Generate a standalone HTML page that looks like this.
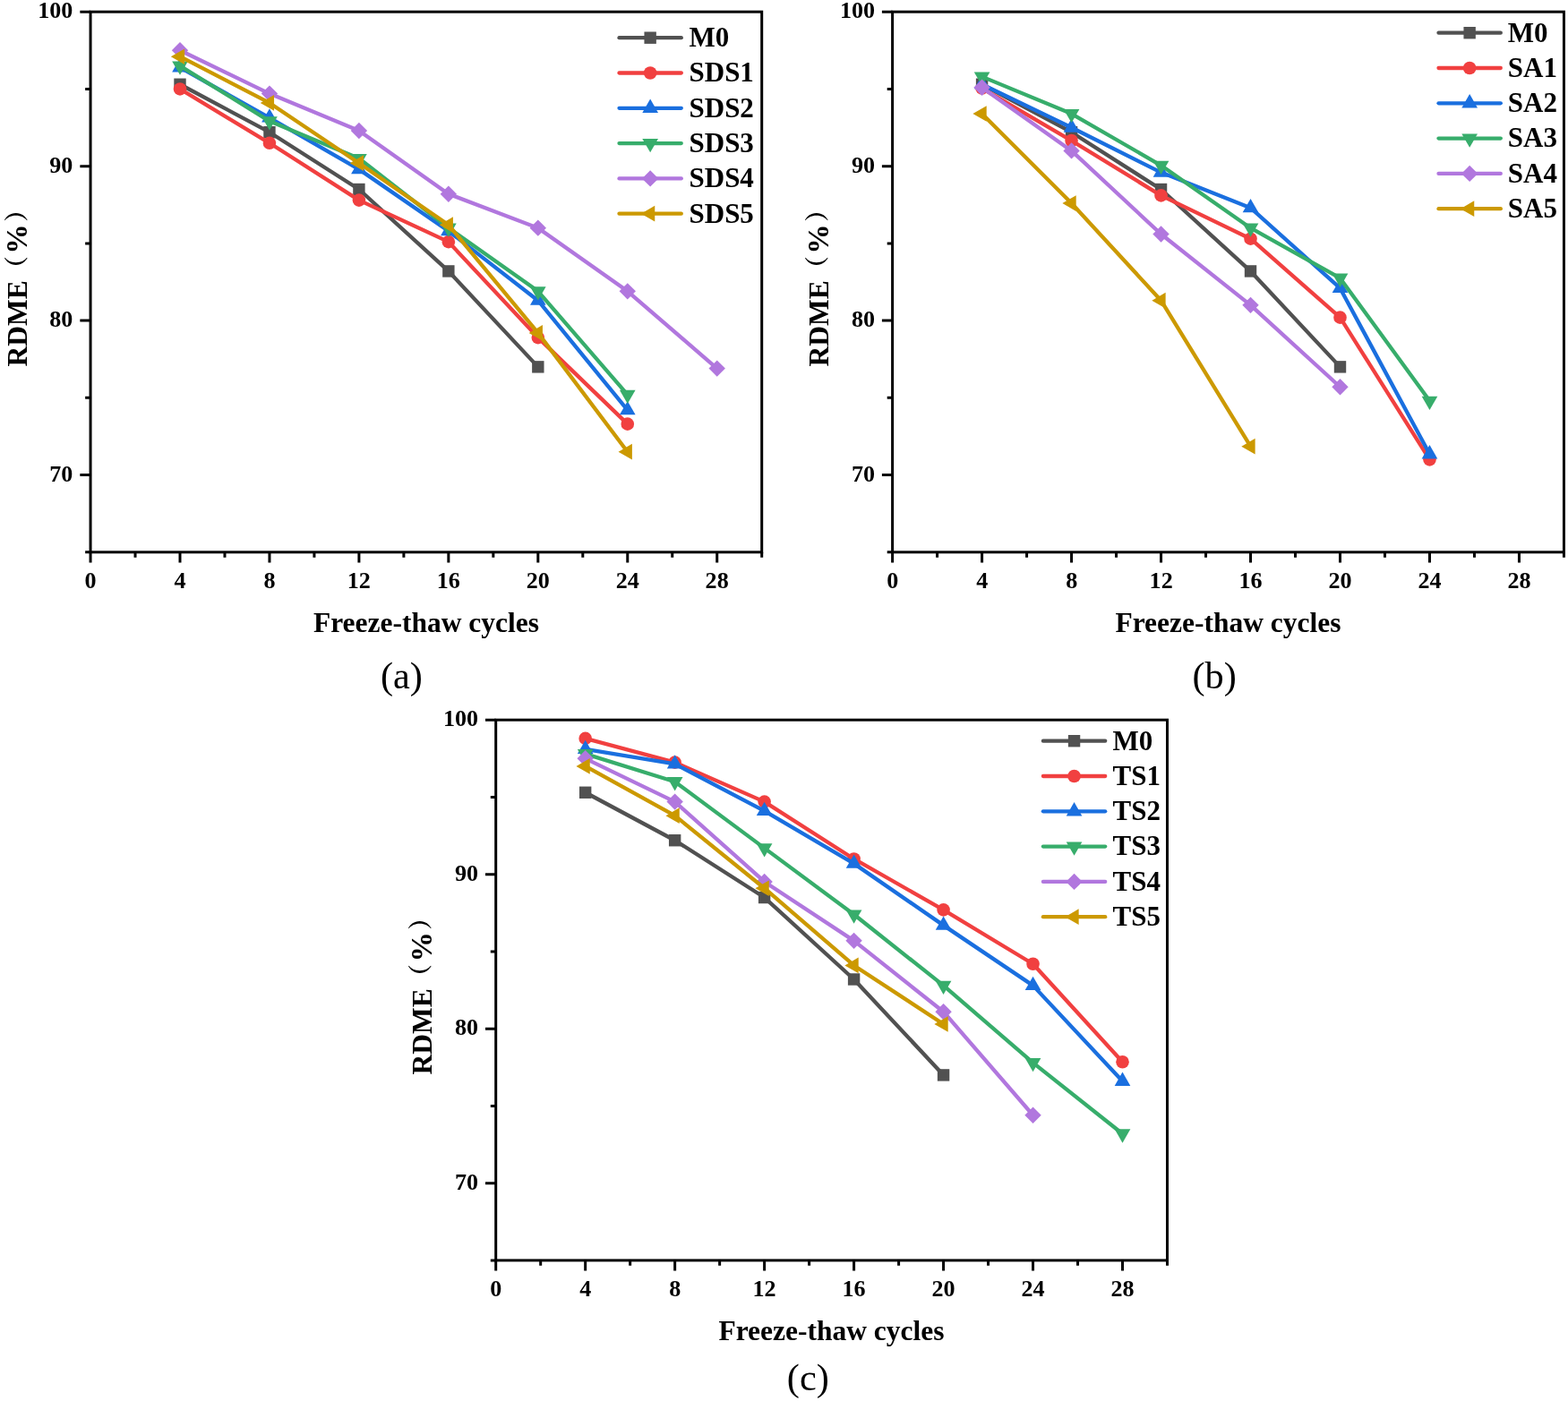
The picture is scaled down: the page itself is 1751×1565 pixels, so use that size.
<!DOCTYPE html>
<html lang="en">
<head>
<meta charset="utf-8">
<title>RDME versus freeze-thaw cycles</title>
<style>
html,body{margin:0;padding:0;background:#fff;}
body{width:1751px;height:1565px;overflow:hidden;}
svg{display:block;}
text{white-space:pre;}
</style>
</head>
<body>
<svg width="1751" height="1565" viewBox="0 0 1751 1565">
<rect width="1751" height="1565" fill="#fff"/>
<g>
<polyline fill="none" stroke="#515151" stroke-width="4.3" stroke-linejoin="round" stroke-linecap="round" points="201,94.25 300.96,147.72 400.91,211.53 500.86,302.93 600.82,409.85"/>
<rect x="194.3" y="87.55" width="13.4" height="13.4" fill="#515151"/>
<rect x="294.26" y="141.02" width="13.4" height="13.4" fill="#515151"/>
<rect x="394.21" y="204.83" width="13.4" height="13.4" fill="#515151"/>
<rect x="494.16" y="296.23" width="13.4" height="13.4" fill="#515151"/>
<rect x="594.12" y="403.15" width="13.4" height="13.4" fill="#515151"/>
<polyline fill="none" stroke="#F14040" stroke-width="4.3" stroke-linejoin="round" stroke-linecap="round" points="201,99.43 300.96,159.79 400.91,223.6 500.86,270.16 600.82,377.08 700.77,473.66"/>
<circle cx="201" cy="99.43" r="7.3" fill="#F14040"/>
<circle cx="300.96" cy="159.79" r="7.3" fill="#F14040"/>
<circle cx="400.91" cy="223.6" r="7.3" fill="#F14040"/>
<circle cx="500.86" cy="270.16" r="7.3" fill="#F14040"/>
<circle cx="600.82" cy="377.08" r="7.3" fill="#F14040"/>
<circle cx="700.77" cy="473.66" r="7.3" fill="#F14040"/>
<polyline fill="none" stroke="#1A6FDF" stroke-width="4.3" stroke-linejoin="round" stroke-linecap="round" points="201,75.28 300.96,131.51 400.91,189.11 500.86,258.09 600.82,335.69 700.77,458.14"/>
<polygon points="201,65.08 209.84,80.38 192.17,80.38" fill="#1A6FDF"/>
<polygon points="300.96,121.31 309.79,136.61 292.12,136.61" fill="#1A6FDF"/>
<polygon points="400.91,178.91 409.74,194.21 392.08,194.21" fill="#1A6FDF"/>
<polygon points="500.86,247.89 509.7,263.19 492.03,263.19" fill="#1A6FDF"/>
<polygon points="600.82,325.49 609.65,340.79 591.98,340.79" fill="#1A6FDF"/>
<polygon points="700.77,447.94 709.6,463.24 691.94,463.24" fill="#1A6FDF"/>
<polyline fill="none" stroke="#37AD6B" stroke-width="4.3" stroke-linejoin="round" stroke-linecap="round" points="201,73.56 300.96,135.3 400.91,177.03 500.86,254.64 600.82,325.35 700.77,440.89"/>
<polygon points="201,83.76 192.17,68.46 209.84,68.46" fill="#37AD6B"/>
<polygon points="300.96,145.5 292.12,130.2 309.79,130.2" fill="#37AD6B"/>
<polygon points="400.91,187.23 392.08,171.93 409.74,171.93" fill="#37AD6B"/>
<polygon points="500.86,264.84 492.03,249.54 509.7,249.54" fill="#37AD6B"/>
<polygon points="600.82,335.55 591.98,320.25 609.65,320.25" fill="#37AD6B"/>
<polygon points="700.77,451.09 691.94,435.79 709.6,435.79" fill="#37AD6B"/>
<polyline fill="none" stroke="#B177DE" stroke-width="4.3" stroke-linejoin="round" stroke-linecap="round" points="201,56.31 300.96,104.6 400.91,145.99 500.86,216.7 600.82,254.64 700.77,325.35 800.72,411.58"/>
<polygon points="201,47.11 210.2,56.31 201,65.51 191.8,56.31" fill="#B177DE"/>
<polygon points="300.96,95.4 310.16,104.6 300.96,113.8 291.76,104.6" fill="#B177DE"/>
<polygon points="400.91,136.79 410.11,145.99 400.91,155.19 391.71,145.99" fill="#B177DE"/>
<polygon points="500.86,207.5 510.06,216.7 500.86,225.9 491.66,216.7" fill="#B177DE"/>
<polygon points="600.82,245.44 610.02,254.64 600.82,263.84 591.62,254.64" fill="#B177DE"/>
<polygon points="700.77,316.15 709.97,325.35 700.77,334.55 691.57,325.35" fill="#B177DE"/>
<polygon points="800.72,402.38 809.92,411.58 800.72,420.78 791.52,411.58" fill="#B177DE"/>
<polyline fill="none" stroke="#CC9900" stroke-width="4.3" stroke-linejoin="round" stroke-linecap="round" points="201,63.21 300.96,114.95 400.91,182.21 500.86,251.19 600.82,371.91 700.77,504.7"/>
<polygon points="190.8,63.21 206.1,54.38 206.1,72.05" fill="#CC9900"/>
<polygon points="290.76,114.95 306.06,106.12 306.06,123.78" fill="#CC9900"/>
<polygon points="390.71,182.21 406.01,173.37 406.01,191.04" fill="#CC9900"/>
<polygon points="490.66,251.19 505.96,242.36 505.96,260.02" fill="#CC9900"/>
<polygon points="590.62,371.91 605.92,363.08 605.92,380.74" fill="#CC9900"/>
<polygon points="690.57,504.7 705.87,495.87 705.87,513.54" fill="#CC9900"/>
<g stroke="#000" stroke-width="3" fill="none" stroke-linecap="butt">
<rect x="101.05" y="13.2" width="749.65" height="603.6"/>
<path d="M101.05 616.8 v11.7 M151.03 616.8 v5.9 M201 616.8 v11.7 M250.98 616.8 v5.9 M300.96 616.8 v11.7 M350.93 616.8 v5.9 M400.91 616.8 v11.7 M450.89 616.8 v5.9 M500.86 616.8 v11.7 M550.84 616.8 v5.9 M600.82 616.8 v11.7 M650.79 616.8 v5.9 M700.77 616.8 v11.7 M750.75 616.8 v5.9 M800.72 616.8 v11.7 M850.7 616.8 v5.9 M101.05 616.8 h-5.9 M101.05 530.57 h-11.7 M101.05 444.34 h-5.9 M101.05 358.11 h-11.7 M101.05 271.89 h-5.9 M101.05 185.66 h-11.7 M101.05 99.43 h-5.9 M101.05 13.2 h-11.7"/>
</g>
<g font-family='"Liberation Serif", "Noto Serif CJK SC", serif' font-weight="bold" font-size="26.1" fill="#000">
<g text-anchor="middle">
<text x="101" y="656.7">0</text>
<text x="200.95" y="656.7">4</text>
<text x="300.91" y="656.7">8</text>
<text x="400.86" y="656.7">12</text>
<text x="500.81" y="656.7">16</text>
<text x="600.77" y="656.7">20</text>
<text x="700.72" y="656.7">24</text>
<text x="800.67" y="656.7">28</text>
</g>
<g text-anchor="end">
<text x="81.4" y="537.77">70</text>
<text x="81.4" y="365.31">80</text>
<text x="81.4" y="192.86">90</text>
<text x="81.4" y="20.4">100</text>
</g>
</g>
<g font-family='"Liberation Serif", "Noto Serif CJK SC", serif' font-weight="bold" font-size="31.5" fill="#000">
<text x="476" y="706" text-anchor="middle">Freeze-thaw cycles</text>
<text transform="translate(29.9 409.5) rotate(-90)" text-anchor="start">RDME<tspan font-size="27" dx="0" dy="-2.3">（</tspan><tspan font-size="33.5" dx="2.6" dy="2.3">%</tspan><tspan font-size="27" dx="2.4" dy="-2.3">）</tspan></text>
</g>
<text x="448.4" y="769.4" font-family='"Liberation Serif", "Noto Serif CJK SC", serif' font-size="42.3" text-anchor="middle" fill="#000">(a)</text>
<g font-family='"Liberation Serif", "Noto Serif CJK SC", serif' font-weight="bold" font-size="31" fill="#000">
<line x1="691.5" y1="42.2" x2="760.8" y2="42.2" stroke="#515151" stroke-width="4.3" stroke-linecap="round"/>
<rect x="719.45" y="35.5" width="13.4" height="13.4" fill="#515151"/>
<text x="769.5" y="52">M0</text>
<line x1="691.5" y1="81.5" x2="760.8" y2="81.5" stroke="#F14040" stroke-width="4.3" stroke-linecap="round"/>
<circle cx="726.15" cy="81.5" r="7.3" fill="#F14040"/>
<text x="769.5" y="91.3">SDS1</text>
<line x1="691.5" y1="120.8" x2="760.8" y2="120.8" stroke="#1A6FDF" stroke-width="4.3" stroke-linecap="round"/>
<polygon points="726.15,110.6 734.98,125.9 717.32,125.9" fill="#1A6FDF"/>
<text x="769.5" y="130.6">SDS2</text>
<line x1="691.5" y1="160.1" x2="760.8" y2="160.1" stroke="#37AD6B" stroke-width="4.3" stroke-linecap="round"/>
<polygon points="726.15,170.3 717.32,155 734.98,155" fill="#37AD6B"/>
<text x="769.5" y="169.9">SDS3</text>
<line x1="691.5" y1="199.4" x2="760.8" y2="199.4" stroke="#B177DE" stroke-width="4.3" stroke-linecap="round"/>
<polygon points="726.15,190.2 735.35,199.4 726.15,208.6 716.95,199.4" fill="#B177DE"/>
<text x="769.5" y="209.2">SDS4</text>
<line x1="691.5" y1="238.7" x2="760.8" y2="238.7" stroke="#CC9900" stroke-width="4.3" stroke-linecap="round"/>
<polygon points="715.95,238.7 731.25,229.87 731.25,247.53" fill="#CC9900"/>
<text x="769.5" y="248.5">SDS5</text>
</g>
</g>
<g>
<polyline fill="none" stroke="#515151" stroke-width="4.3" stroke-linejoin="round" stroke-linecap="round" points="1096.58,94.25 1196.56,147.72 1296.54,211.53 1396.52,302.93 1496.5,409.85"/>
<rect x="1089.88" y="87.55" width="13.4" height="13.4" fill="#515151"/>
<rect x="1189.86" y="141.02" width="13.4" height="13.4" fill="#515151"/>
<rect x="1289.84" y="204.83" width="13.4" height="13.4" fill="#515151"/>
<rect x="1389.82" y="296.23" width="13.4" height="13.4" fill="#515151"/>
<rect x="1489.8" y="403.15" width="13.4" height="13.4" fill="#515151"/>
<polyline fill="none" stroke="#F14040" stroke-width="4.3" stroke-linejoin="round" stroke-linecap="round" points="1096.58,98.57 1196.56,157.03 1296.54,218.42 1396.52,266.71 1496.5,354.67 1596.48,513.33"/>
<circle cx="1096.58" cy="98.57" r="7.3" fill="#F14040"/>
<circle cx="1196.56" cy="157.03" r="7.3" fill="#F14040"/>
<circle cx="1296.54" cy="218.42" r="7.3" fill="#F14040"/>
<circle cx="1396.52" cy="266.71" r="7.3" fill="#F14040"/>
<circle cx="1496.5" cy="354.67" r="7.3" fill="#F14040"/>
<circle cx="1596.48" cy="513.33" r="7.3" fill="#F14040"/>
<polyline fill="none" stroke="#1A6FDF" stroke-width="4.3" stroke-linejoin="round" stroke-linecap="round" points="1096.58,94.25 1196.56,142.54 1296.54,192.56 1396.52,232.22 1496.5,321.9 1596.48,507.29"/>
<polygon points="1096.58,84.05 1105.41,99.35 1087.75,99.35" fill="#1A6FDF"/>
<polygon points="1196.56,132.34 1205.39,147.64 1187.73,147.64" fill="#1A6FDF"/>
<polygon points="1296.54,182.36 1305.37,197.66 1287.71,197.66" fill="#1A6FDF"/>
<polygon points="1396.52,222.02 1405.35,237.32 1387.69,237.32" fill="#1A6FDF"/>
<polygon points="1496.5,311.7 1505.33,327 1487.67,327" fill="#1A6FDF"/>
<polygon points="1596.48,497.09 1605.31,512.39 1587.65,512.39" fill="#1A6FDF"/>
<polyline fill="none" stroke="#37AD6B" stroke-width="4.3" stroke-linejoin="round" stroke-linecap="round" points="1096.58,85.63 1196.56,127.02 1296.54,184.79 1396.52,254.64 1496.5,310.69 1596.48,447.79"/>
<polygon points="1096.58,95.83 1087.75,80.53 1105.41,80.53" fill="#37AD6B"/>
<polygon points="1196.56,137.22 1187.73,121.92 1205.39,121.92" fill="#37AD6B"/>
<polygon points="1296.54,194.99 1287.71,179.69 1305.37,179.69" fill="#37AD6B"/>
<polygon points="1396.52,264.84 1387.69,249.54 1405.35,249.54" fill="#37AD6B"/>
<polygon points="1496.5,320.89 1487.67,305.59 1505.33,305.59" fill="#37AD6B"/>
<polygon points="1596.48,457.99 1587.65,442.69 1605.31,442.69" fill="#37AD6B"/>
<polyline fill="none" stroke="#B177DE" stroke-width="4.3" stroke-linejoin="round" stroke-linecap="round" points="1096.58,97.7 1196.56,168.41 1296.54,261.54 1396.52,340.87 1496.5,432.27"/>
<polygon points="1096.58,88.5 1105.78,97.7 1096.58,106.9 1087.38,97.7" fill="#B177DE"/>
<polygon points="1196.56,159.21 1205.76,168.41 1196.56,177.61 1187.36,168.41" fill="#B177DE"/>
<polygon points="1296.54,252.34 1305.74,261.54 1296.54,270.74 1287.34,261.54" fill="#B177DE"/>
<polygon points="1396.52,331.67 1405.72,340.87 1396.52,350.07 1387.32,340.87" fill="#B177DE"/>
<polygon points="1496.5,423.07 1505.7,432.27 1496.5,441.47 1487.3,432.27" fill="#B177DE"/>
<polyline fill="none" stroke="#CC9900" stroke-width="4.3" stroke-linejoin="round" stroke-linecap="round" points="1096.58,127.02 1196.56,227.05 1296.54,335.69 1396.52,498.67"/>
<polygon points="1086.38,127.02 1101.68,118.19 1101.68,135.86" fill="#CC9900"/>
<polygon points="1186.36,227.05 1201.66,218.21 1201.66,235.88" fill="#CC9900"/>
<polygon points="1286.34,335.69 1301.64,326.86 1301.64,344.53" fill="#CC9900"/>
<polygon points="1386.32,498.67 1401.62,489.83 1401.62,507.5" fill="#CC9900"/>
<g stroke="#000" stroke-width="3" fill="none" stroke-linecap="butt">
<rect x="996.6" y="13.2" width="749.85" height="603.6"/>
<path d="M996.6 616.8 v11.7 M1046.59 616.8 v5.9 M1096.58 616.8 v11.7 M1146.57 616.8 v5.9 M1196.56 616.8 v11.7 M1246.55 616.8 v5.9 M1296.54 616.8 v11.7 M1346.53 616.8 v5.9 M1396.52 616.8 v11.7 M1446.51 616.8 v5.9 M1496.5 616.8 v11.7 M1546.49 616.8 v5.9 M1596.48 616.8 v11.7 M1646.47 616.8 v5.9 M1696.46 616.8 v11.7 M1746.45 616.8 v5.9 M996.6 616.8 h-5.9 M996.6 530.57 h-11.7 M996.6 444.34 h-5.9 M996.6 358.11 h-11.7 M996.6 271.89 h-5.9 M996.6 185.66 h-11.7 M996.6 99.43 h-5.9 M996.6 13.2 h-11.7"/>
</g>
<g font-family='"Liberation Serif", "Noto Serif CJK SC", serif' font-weight="bold" font-size="26.1" fill="#000">
<g text-anchor="middle">
<text x="996.7" y="656.7">0</text>
<text x="1096.68" y="656.7">4</text>
<text x="1196.66" y="656.7">8</text>
<text x="1296.64" y="656.7">12</text>
<text x="1396.62" y="656.7">16</text>
<text x="1496.6" y="656.7">20</text>
<text x="1596.58" y="656.7">24</text>
<text x="1696.56" y="656.7">28</text>
</g>
<g text-anchor="end">
<text x="977.05" y="537.77">70</text>
<text x="977.05" y="365.31">80</text>
<text x="977.05" y="192.86">90</text>
<text x="977.05" y="20.4">100</text>
</g>
</g>
<g font-family='"Liberation Serif", "Noto Serif CJK SC", serif' font-weight="bold" font-size="31.5" fill="#000">
<text x="1371.5" y="706" text-anchor="middle">Freeze-thaw cycles</text>
<text transform="translate(924.7 409.5) rotate(-90)" text-anchor="start">RDME<tspan font-size="27" dx="0" dy="-2.3">（</tspan><tspan font-size="33.5" dx="2.6" dy="2.3">%</tspan><tspan font-size="27" dx="2.4" dy="-2.3">）</tspan></text>
</g>
<text x="1356.2" y="769.4" font-family='"Liberation Serif", "Noto Serif CJK SC", serif' font-size="42.3" text-anchor="middle" fill="#000">(b)</text>
<g font-family='"Liberation Serif", "Noto Serif CJK SC", serif' font-weight="bold" font-size="31" fill="#000">
<line x1="1606.5" y1="36.7" x2="1675.8" y2="36.7" stroke="#515151" stroke-width="4.3" stroke-linecap="round"/>
<rect x="1634.45" y="30" width="13.4" height="13.4" fill="#515151"/>
<text x="1683.8" y="46.5">M0</text>
<line x1="1606.5" y1="76" x2="1675.8" y2="76" stroke="#F14040" stroke-width="4.3" stroke-linecap="round"/>
<circle cx="1641.15" cy="76" r="7.3" fill="#F14040"/>
<text x="1683.8" y="85.8">SA1</text>
<line x1="1606.5" y1="115.3" x2="1675.8" y2="115.3" stroke="#1A6FDF" stroke-width="4.3" stroke-linecap="round"/>
<polygon points="1641.15,105.1 1649.98,120.4 1632.32,120.4" fill="#1A6FDF"/>
<text x="1683.8" y="125.1">SA2</text>
<line x1="1606.5" y1="154.6" x2="1675.8" y2="154.6" stroke="#37AD6B" stroke-width="4.3" stroke-linecap="round"/>
<polygon points="1641.15,164.8 1632.32,149.5 1649.98,149.5" fill="#37AD6B"/>
<text x="1683.8" y="164.4">SA3</text>
<line x1="1606.5" y1="193.9" x2="1675.8" y2="193.9" stroke="#B177DE" stroke-width="4.3" stroke-linecap="round"/>
<polygon points="1641.15,184.7 1650.35,193.9 1641.15,203.1 1631.95,193.9" fill="#B177DE"/>
<text x="1683.8" y="203.7">SA4</text>
<line x1="1606.5" y1="233.2" x2="1675.8" y2="233.2" stroke="#CC9900" stroke-width="4.3" stroke-linecap="round"/>
<polygon points="1630.95,233.2 1646.25,224.37 1646.25,242.03" fill="#CC9900"/>
<text x="1683.8" y="243">SA5</text>
</g>
</g>
<g>
<polyline fill="none" stroke="#515151" stroke-width="4.3" stroke-linejoin="round" stroke-linecap="round" points="653.67,885.27 753.65,938.74 853.62,1002.56 953.59,1093.98 1053.57,1200.92"/>
<rect x="646.97" y="878.57" width="13.4" height="13.4" fill="#515151"/>
<rect x="746.95" y="932.04" width="13.4" height="13.4" fill="#515151"/>
<rect x="846.92" y="995.86" width="13.4" height="13.4" fill="#515151"/>
<rect x="946.89" y="1087.28" width="13.4" height="13.4" fill="#515151"/>
<rect x="1046.87" y="1194.22" width="13.4" height="13.4" fill="#515151"/>
<polyline fill="none" stroke="#F14040" stroke-width="4.3" stroke-linejoin="round" stroke-linecap="round" points="653.67,824.9 753.65,851.63 853.62,895.62 953.59,959.44 1053.57,1016.36 1153.54,1076.73 1253.51,1186.26"/>
<circle cx="653.67" cy="824.9" r="7.3" fill="#F14040"/>
<circle cx="753.65" cy="851.63" r="7.3" fill="#F14040"/>
<circle cx="853.62" cy="895.62" r="7.3" fill="#F14040"/>
<circle cx="953.59" cy="959.44" r="7.3" fill="#F14040"/>
<circle cx="1053.57" cy="1016.36" r="7.3" fill="#F14040"/>
<circle cx="1153.54" cy="1076.73" r="7.3" fill="#F14040"/>
<circle cx="1253.51" cy="1186.26" r="7.3" fill="#F14040"/>
<polyline fill="none" stroke="#1A6FDF" stroke-width="4.3" stroke-linejoin="round" stroke-linecap="round" points="653.67,836.97 753.65,853.36 853.62,905.97 953.59,964.61 1053.57,1033.61 1153.54,1100.88 1253.51,1207.82"/>
<polygon points="653.67,826.77 662.51,842.07 644.84,842.07" fill="#1A6FDF"/>
<polygon points="753.65,843.16 762.48,858.46 744.81,858.46" fill="#1A6FDF"/>
<polygon points="853.62,895.77 862.45,911.07 844.79,911.07" fill="#1A6FDF"/>
<polygon points="953.59,954.41 962.43,969.71 944.76,969.71" fill="#1A6FDF"/>
<polygon points="1053.57,1023.41 1062.4,1038.71 1044.73,1038.71" fill="#1A6FDF"/>
<polygon points="1153.54,1090.68 1162.37,1105.98 1144.71,1105.98" fill="#1A6FDF"/>
<polygon points="1253.51,1197.62 1262.35,1212.92 1244.68,1212.92" fill="#1A6FDF"/>
<polyline fill="none" stroke="#37AD6B" stroke-width="4.3" stroke-linejoin="round" stroke-linecap="round" points="653.67,842.15 753.65,873.19 853.62,947.36 953.59,1021.53 1053.57,1100.88 1153.54,1187.12 1253.51,1266.46"/>
<polygon points="653.67,852.35 644.84,837.05 662.51,837.05" fill="#37AD6B"/>
<polygon points="753.65,883.39 744.81,868.09 762.48,868.09" fill="#37AD6B"/>
<polygon points="853.62,957.56 844.79,942.26 862.45,942.26" fill="#37AD6B"/>
<polygon points="953.59,1031.73 944.76,1016.43 962.43,1016.43" fill="#37AD6B"/>
<polygon points="1053.57,1111.08 1044.73,1095.78 1062.4,1095.78" fill="#37AD6B"/>
<polygon points="1153.54,1197.32 1144.71,1182.02 1162.37,1182.02" fill="#37AD6B"/>
<polygon points="1253.51,1276.66 1244.68,1261.36 1262.35,1261.36" fill="#37AD6B"/>
<polyline fill="none" stroke="#B177DE" stroke-width="4.3" stroke-linejoin="round" stroke-linecap="round" points="653.67,847.32 753.65,895.62 853.62,984.97 953.59,1050.85 1053.57,1130.2 1153.54,1245.76"/>
<polygon points="653.67,838.12 662.87,847.32 653.67,856.52 644.47,847.32" fill="#B177DE"/>
<polygon points="753.65,886.42 762.85,895.62 753.65,904.82 744.45,895.62" fill="#B177DE"/>
<polygon points="853.62,975.77 862.82,984.97 853.62,994.17 844.42,984.97" fill="#B177DE"/>
<polygon points="953.59,1041.65 962.79,1050.85 953.59,1060.05 944.39,1050.85" fill="#B177DE"/>
<polygon points="1053.57,1121 1062.77,1130.2 1053.57,1139.4 1044.37,1130.2" fill="#B177DE"/>
<polygon points="1153.54,1236.56 1162.74,1245.76 1153.54,1254.96 1144.34,1245.76" fill="#B177DE"/>
<polyline fill="none" stroke="#CC9900" stroke-width="4.3" stroke-linejoin="round" stroke-linecap="round" points="653.67,855.95 753.65,911.14 853.62,992.21 953.59,1078.45 1053.57,1144"/>
<polygon points="643.47,855.95 658.77,847.11 658.77,864.78" fill="#CC9900"/>
<polygon points="743.45,911.14 758.75,902.31 758.75,919.97" fill="#CC9900"/>
<polygon points="843.42,992.21 858.72,983.38 858.72,1001.04" fill="#CC9900"/>
<polygon points="943.39,1078.45 958.69,1069.62 958.69,1087.29" fill="#CC9900"/>
<polygon points="1043.37,1144 1058.67,1135.16 1058.67,1152.83" fill="#CC9900"/>
<g stroke="#000" stroke-width="3" fill="none" stroke-linecap="butt">
<rect x="553.7" y="804.2" width="749.8" height="603.7"/>
<path d="M553.7 1407.9 v11.7 M603.69 1407.9 v5.9 M653.67 1407.9 v11.7 M703.66 1407.9 v5.9 M753.65 1407.9 v11.7 M803.63 1407.9 v5.9 M853.62 1407.9 v11.7 M903.61 1407.9 v5.9 M953.59 1407.9 v11.7 M1003.58 1407.9 v5.9 M1053.57 1407.9 v11.7 M1103.55 1407.9 v5.9 M1153.54 1407.9 v11.7 M1203.53 1407.9 v5.9 M1253.51 1407.9 v11.7 M1303.5 1407.9 v5.9 M553.7 1407.9 h-5.9 M553.7 1321.66 h-11.7 M553.7 1235.41 h-5.9 M553.7 1149.17 h-11.7 M553.7 1062.93 h-5.9 M553.7 976.69 h-11.7 M553.7 890.44 h-5.9 M553.7 804.2 h-11.7"/>
</g>
<g font-family='"Liberation Serif", "Noto Serif CJK SC", serif' font-weight="bold" font-size="26.1" fill="#000">
<g text-anchor="middle">
<text x="553.7" y="1447.8">0</text>
<text x="653.67" y="1447.8">4</text>
<text x="753.65" y="1447.8">8</text>
<text x="853.62" y="1447.8">12</text>
<text x="953.59" y="1447.8">16</text>
<text x="1053.57" y="1447.8">20</text>
<text x="1153.54" y="1447.8">24</text>
<text x="1253.51" y="1447.8">28</text>
</g>
<g text-anchor="end">
<text x="534.05" y="1328.66">70</text>
<text x="534.05" y="1156.17">80</text>
<text x="534.05" y="983.69">90</text>
<text x="534.05" y="811.2">100</text>
</g>
</g>
<g font-family='"Liberation Serif", "Noto Serif CJK SC", serif' font-weight="bold" font-size="31.5" fill="#000">
<text x="928.5" y="1496.5" text-anchor="middle">Freeze-thaw cycles</text>
<text transform="translate(481.5 1200.4) rotate(-90)" text-anchor="start">RDME<tspan font-size="27" dx="0" dy="-2.3">（</tspan><tspan font-size="33.5" dx="2.6" dy="2.3">%</tspan><tspan font-size="27" dx="2.4" dy="-2.3">）</tspan></text>
</g>
<text x="902.3" y="1552.6" font-family='"Liberation Serif", "Noto Serif CJK SC", serif' font-size="42.3" text-anchor="middle" fill="#000">(c)</text>
<g font-family='"Liberation Serif", "Noto Serif CJK SC", serif' font-weight="bold" font-size="31" fill="#000">
<line x1="1164.9" y1="827.7" x2="1234.2" y2="827.7" stroke="#515151" stroke-width="4.3" stroke-linecap="round"/>
<rect x="1192.85" y="821" width="13.4" height="13.4" fill="#515151"/>
<text x="1242.5" y="837.5">M0</text>
<line x1="1164.9" y1="867" x2="1234.2" y2="867" stroke="#F14040" stroke-width="4.3" stroke-linecap="round"/>
<circle cx="1199.55" cy="867" r="7.3" fill="#F14040"/>
<text x="1242.5" y="876.8">TS1</text>
<line x1="1164.9" y1="906.3" x2="1234.2" y2="906.3" stroke="#1A6FDF" stroke-width="4.3" stroke-linecap="round"/>
<polygon points="1199.55,896.1 1208.38,911.4 1190.72,911.4" fill="#1A6FDF"/>
<text x="1242.5" y="916.1">TS2</text>
<line x1="1164.9" y1="945.6" x2="1234.2" y2="945.6" stroke="#37AD6B" stroke-width="4.3" stroke-linecap="round"/>
<polygon points="1199.55,955.8 1190.72,940.5 1208.38,940.5" fill="#37AD6B"/>
<text x="1242.5" y="955.4">TS3</text>
<line x1="1164.9" y1="984.9" x2="1234.2" y2="984.9" stroke="#B177DE" stroke-width="4.3" stroke-linecap="round"/>
<polygon points="1199.55,975.7 1208.75,984.9 1199.55,994.1 1190.35,984.9" fill="#B177DE"/>
<text x="1242.5" y="994.7">TS4</text>
<line x1="1164.9" y1="1024.2" x2="1234.2" y2="1024.2" stroke="#CC9900" stroke-width="4.3" stroke-linecap="round"/>
<polygon points="1189.35,1024.2 1204.65,1015.37 1204.65,1033.03" fill="#CC9900"/>
<text x="1242.5" y="1034">TS5</text>
</g>
</g>
</svg>
</body>
</html>
